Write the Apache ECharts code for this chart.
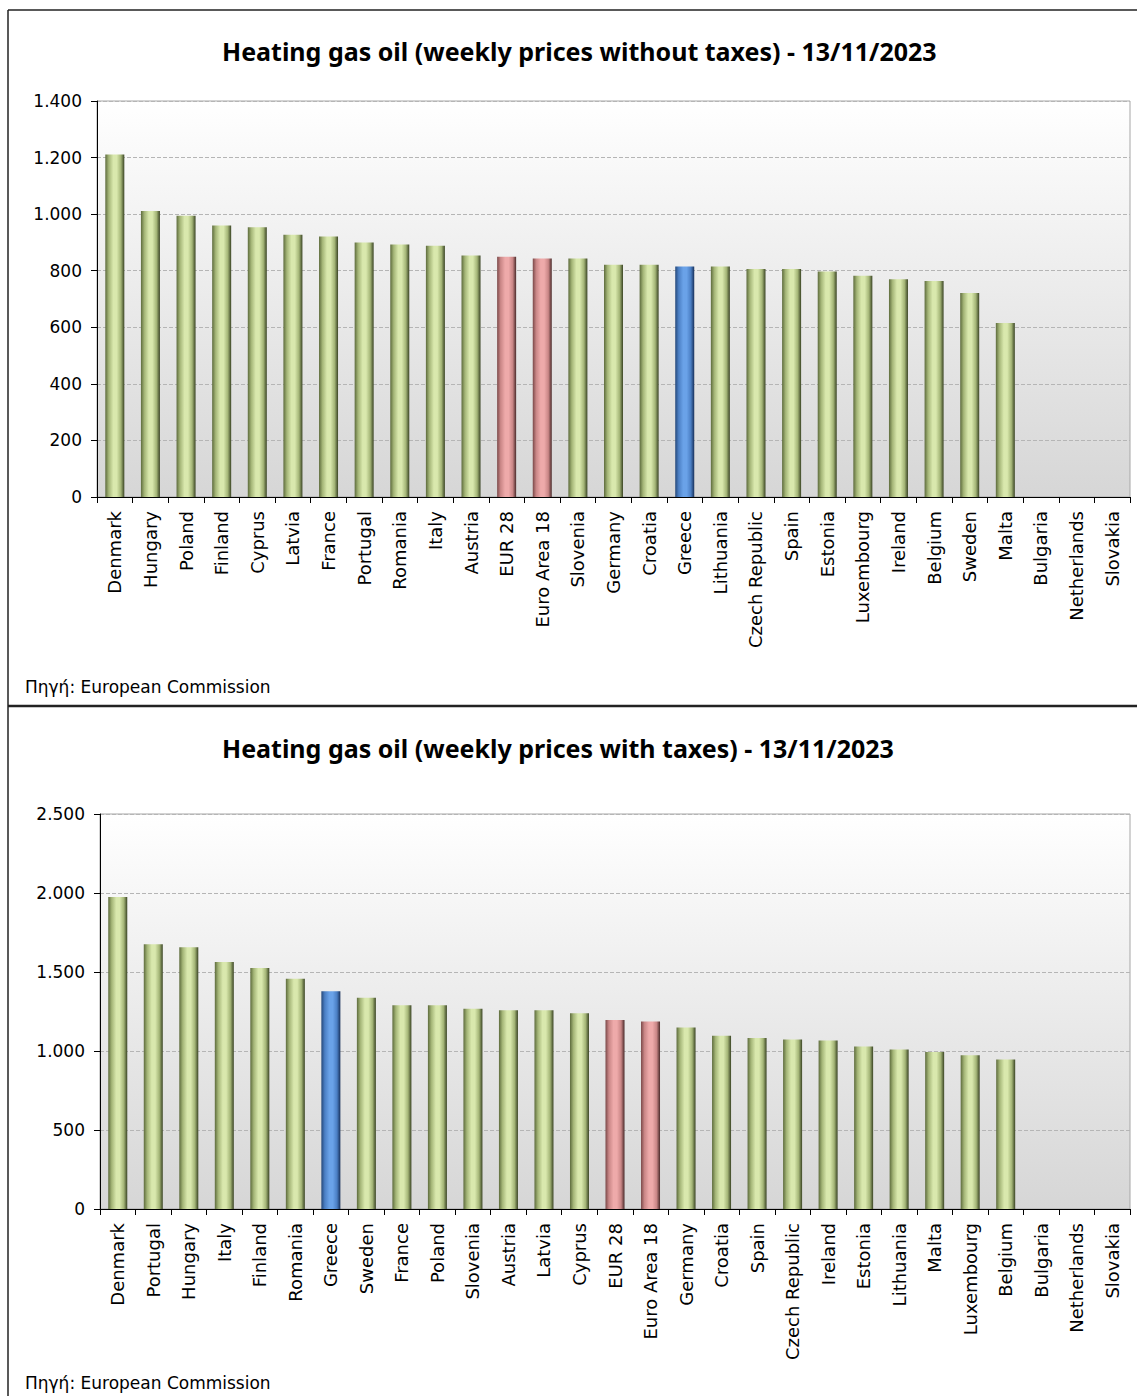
<!DOCTYPE html>
<html>
<head>
<meta charset="utf-8">
<script src="https://cdn.jsdelivr.net/npm/echarts@6/dist/echarts.min.js"></script>
<style>
html,body{margin:0;padding:0;background:#fff;}
#c{width:1137px;height:1396px;}
</style>
</head>
<body>
<div id="c"></div>
<script>
const title1 = 'Heating gas oil (weekly prices without taxes) - 13/11/2023';
const title2 = 'Heating gas oil (weekly prices with taxes) - 13/11/2023';
const sourceText = 'Πηγή: European Commission';

const cats1 = ['Denmark','Hungary','Poland','Finland','Cyprus','Latvia','France','Portugal','Romania','Italy','Austria','EUR 28','Euro Area 18','Slovenia','Germany','Croatia','Greece','Lithuania','Czech Republic','Spain','Estonia','Luxembourg','Ireland','Belgium','Sweden','Malta','Bulgaria','Netherlands','Slovakia'];
const vals1 = [1211,1011,994,960,954,927,921,900,893,888,854,849,843,843,821,821,815,815,806,806,797,782,770,764,721,615,null,null,null];

const cats2 = ['Denmark','Portugal','Hungary','Italy','Finland','Romania','Greece','Sweden','France','Poland','Slovenia','Austria','Latvia','Cyprus','EUR 28','Euro Area 18','Germany','Croatia','Spain','Czech Republic','Ireland','Estonia','Lithuania','Malta','Luxembourg','Belgium','Bulgaria','Netherlands','Slovakia'];
const vals2 = [1974,1675,1656,1563,1525,1457,1378,1337,1289,1289,1268,1258,1258,1239,1196,1186,1148,1097,1083,1072,1066,1028,1009,994,973,946,null,null,null];

const yAxis1 = {min:0, max:1400, interval:200};
const yAxis2 = {min:0, max:2500, interval:500};

const redCats = ['EUR 28','Euro Area 18'];
const blueCats = ['Greece'];

function grad(dark1, mid, light, dark2){
  return {type:'linear', x:0, y:0, x2:1, y2:0, colorStops:[
    {offset:0, color:dark1},
    {offset:0.18, color:mid},
    {offset:0.42, color:light},
    {offset:0.6, color:light},
    {offset:0.82, color:mid},
    {offset:1, color:dark2}
  ]};
}
const greenG = grad('#5d6b3c','#a4b577','#d9e8ad','#3a4424');
const redG = grad('#7a4848','#c98686','#eeaaaa','#4a2a2a');
const blueG = grad('#25487a','#4b7fc4','#6aa2e8','#18305a');

function colorFor(c){
  if (redCats.includes(c)) return redG;
  if (blueCats.includes(c)) return blueG;
  return greenG;
}
function toData(cats, vals){
  return vals.map((v,i)=>({value:v, itemStyle:{color:colorFor(cats[i])}}));
}
function fmt(v){
  return String(v).replace(/\B(?=(\d{3})+(?!\d))/g, '.');
}
const bgGrad = {type:'linear', x:0, y:0, x2:0, y2:1, colorStops:[
  {offset:0, color:'#ffffff'},{offset:1, color:'#d6d6d6'}]};

const FONT = 'DejaVu Sans';
function xAxisCfg(cats, gi){
  return {
    type:'category', gridIndex:gi, data:cats,
    axisLine:{show:true, lineStyle:{color:'#000', width:1}},
    axisTick:{show:true, length:6, interval:0, lineStyle:{color:'#000'}},
    axisLabel:{interval:0, rotate:90, fontSize:18, fontFamily:FONT, color:'#000', margin:14}
  };
}
function yAxisCfg(y, gi){
  return {
    type:'value', gridIndex:gi, min:y.min, max:y.max, interval:y.interval,
    axisLine:{show:true, lineStyle:{color:'#000', width:1}},
    axisTick:{show:true, length:6, lineStyle:{color:'#000'}},
    axisLabel:{fontSize:17, fontFamily:FONT, color:'#000', margin:15, formatter:fmt},
    splitLine:{show:true, lineStyle:{color:'#b5b5b5', type:[4,2], width:1}}
  };
}

const chart = echarts.init(document.getElementById('c'), null, {renderer:'svg'});
chart.setOption({
  animation:false,
  backgroundColor:'#ffffff',
  title:[
    {text:title1, left:217, top:33, textStyle:{fontFamily:'Noto Sans', fontWeight:'bold', fontSize:25, color:'#000'}},
    {text:title2, left:217, top:730, textStyle:{fontFamily:'Noto Sans', fontWeight:'bold', fontSize:25, color:'#000'}}
  ],
  grid:[
    {left:97, top:101, width:1033, height:396, show:true, backgroundColor:bgGrad, borderColor:'#a6a6a6', borderWidth:1},
    {left:100, top:814, width:1030, height:395, show:true, backgroundColor:bgGrad, borderColor:'#a6a6a6', borderWidth:1}
  ],
  xAxis:[xAxisCfg(cats1,0), xAxisCfg(cats2,1)],
  yAxis:[yAxisCfg(yAxis1,0), yAxisCfg(yAxis2,1)],
  series:[
    {type:'bar', xAxisIndex:0, yAxisIndex:0, barWidth:19, data:toData(cats1, vals1)},
    {type:'bar', xAxisIndex:1, yAxisIndex:1, barWidth:19, data:toData(cats2, vals2)}
  ],
  graphic:[
    {type:'line', shape:{x1:8, y1:10, x2:1137, y2:10}, style:{stroke:'#222', lineWidth:1.5}},
    {type:'line', shape:{x1:8, y1:10, x2:8, y2:1396}, style:{stroke:'#222', lineWidth:1.5}},
    {type:'line', shape:{x1:8, y1:706, x2:1137, y2:706}, style:{stroke:'#222', lineWidth:2.5}},
    {type:'text', left:25, top:678, style:{text:sourceText, fontFamily:FONT, fontSize:17, fill:'#000'}},
    {type:'text', left:25, top:1374, style:{text:sourceText, fontFamily:FONT, fontSize:17, fill:'#000'}}
  ]
});
</script>
</body>
</html>
